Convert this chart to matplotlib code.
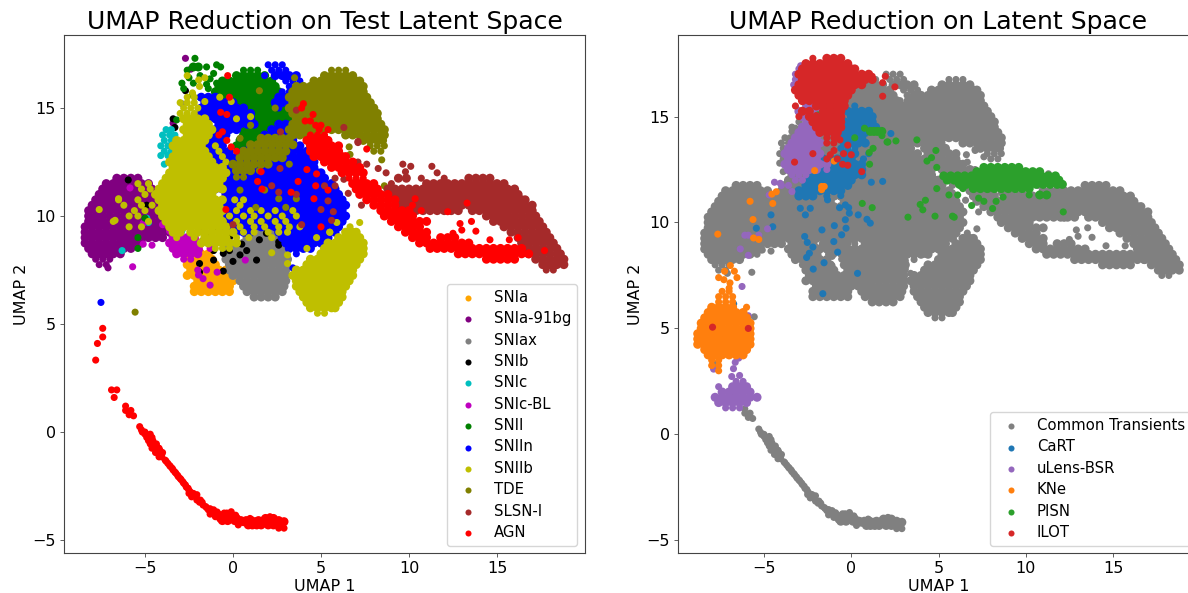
import matplotlib
matplotlib.use('Agg')
import matplotlib.pyplot as plt

# Each class: rows of (UMAP 2, [UMAP 1 values]).
SNIa = [(6.5,[-2.2,-1.8,-1.4,-1.0,-0.6,-0.2]),(6.75,[-2.2,-1.8,-1.4,-1.0,-0.6,-0.2]),
 (7.0,[-2.0,-1.6,-1.2,-0.8,-0.4,0.0]),(7.25,[-2.6,-2.2,-1.8,-1.4,-1.0,-0.6,-0.2]),
 (7.5,[-2.4,-2.0,-1.6,-1.2,-0.8,-0.4]),(7.75,[-2.6,-2.2,-1.8,-1.4,-1.0]),
 (8.0,[-2.4,-2.0,-1.6,-1.2]),(8.25,[-2.6,-2.2,-1.8,-1.4]),(8.6,[-2.8,-2.4,-1.9]),(8.9,[-2.6,-2.1])]
SNIa_91bg = [(11.75,[-6.6,-6.2,-5.8,-5.4]),(11.5,[-7.2,-6.8,-6.4,-6.0,-5.6,-5.2,-4.8]),
 (11.25,[-7.4,-7.0,-6.6,-6.2,-5.8,-5.4,-5.0,-4.6]),(11.0,[-7.6,-7.2,-6.8,-6.4,-6.0,-5.6,-5.2,-4.8,-4.4]),
 (10.75,[-7.8,-7.4,-7.0,-6.6,-6.2,-5.8,-5.4,-5.0,-4.6,-4.2]),(10.5,[-8.0,-7.6,-7.2,-6.8,-6.4,-6.0,-5.6,-5.2,-4.8,-4.4,-4.0]),
 (10.25,[-8.2,-7.8,-7.4,-7.0,-6.6,-6.2,-5.8,-5.4,-5.0,-4.6,-4.2,-3.8]),(10.0,[-8.2,-7.8,-7.4,-7.0,-6.6,-6.2,-5.8,-5.4,-5.0,-4.6,-4.2,-3.8]),
 (9.75,[-8.2,-7.8,-7.4,-7.0,-6.6,-6.2,-5.8,-5.4,-5.0,-4.6,-4.2,-3.8]),(9.5,[-8.4,-8.0,-7.6,-7.2,-6.8,-6.4,-6.0,-5.6,-5.2,-4.8,-4.4,-4.0,-3.6]),
 (9.25,[-8.4,-8.0,-7.6,-7.2,-6.8,-6.4,-6.0,-5.6,-5.2,-4.8,-4.4,-4.0,-3.6]),(9.0,[-8.4,-8.0,-7.6,-7.2,-6.8,-6.4,-6.0,-5.6,-5.2,-4.8,-4.4,-4.0]),
 (8.75,[-8.4,-8.0,-7.6,-7.2,-6.8,-6.4,-6.0,-5.6,-5.2]),(8.5,[-8.2,-7.8,-7.4,-7.0,-6.6,-6.2,-5.8]),
 (8.25,[-8.0,-7.6,-7.2,-6.8,-6.4]),(8.0,[-7.8,-7.4,-7.0]),(7.75,[-7.6,-7.2]),(7.6,[-7.1]),(17.3,[-2.7]),(16.8,[-2.4]),(14.3,[-3.4])]
SNIax = [(6.25,[1.2,1.6,2.0,2.4]),(6.5,[0.8,1.2,1.6,2.0,2.4,2.8]),(6.75,[0.6,1.0,1.4,1.8,2.2,2.6,2.9]),
 (7.0,[0.4,0.8,1.2,1.6,2.0,2.4,2.8,3.0]),(7.25,[0.0,0.4,0.8,1.2,1.6,2.0,2.4,2.8,3.0]),
 (7.5,[-0.2,0.2,0.6,1.0,1.4,1.8,2.2,2.6,3.0]),(7.75,[-0.2,0.2,0.6,1.0,1.4,1.8,2.2,2.6,3.0]),
 (8.0,[-0.4,0.0,0.4,0.8,1.2,1.6,2.0,2.4,2.8,3.1]),(8.25,[-0.2,0.2,0.6,1.0,1.4,1.8,2.2,2.6,3.0]),
 (8.5,[-0.4,0.0,0.4,0.8,1.2,1.6,2.0,2.4,2.8,3.1]),(8.75,[0.2,0.6,1.0,1.4,1.8,2.2,2.6,3.0]),
 (9.0,[0.8,1.2,1.6,2.0,2.4,2.8]),(9.25,[1.0,1.4,1.8,2.2]),(15.2,[-2.9])]
SNIb = [(11.67,[-5.95]),(10.5,[-4.9]),(7.96,[1.34,-1.1]),(7.8,[-1.9]),(7.4,[-1.9]),(7.45,[-0.55]),(8.27,[-0.55]),
 (7.9,[0.0]),(8.2,[0.4]),(8.4,[0.78,-0.2,-2.15,-1.1]),(8.9,[1.5]),(9.2,[1.9,0.8,-1.4,-2.4]),(8.8,[2.6,-0.6,-1.8]),(8.65,[2.6]),
 (8.7,[0.5]),(9.5,[0.2,-3.0,-1.0]),(11.4,[-0.07]),(15.8,[-2.7]),(14.5,[-3.4]),(12.7,[-1.1,-1.6]),(11.0,[-1.67]),
 (14.1,[-3.3]),(12.4,[-2.0,-1.3]),(10.0,[-2.4,-0.8,-1.6,0.3]),(10.6,[-3.2,-0.9,-1.9]),(9.8,[-3.3,-1.2,0.4]),(9.0,[-3.1,-0.2])]
SNIc = [(14.0,[-3.8,-3.5]),(13.75,[-4.0,-3.6,-3.3]),(13.5,[-3.9,-3.5]),(13.25,[-4.1,-3.7,-3.3]),(13.0,[-3.9,-3.5]),(12.8,[-4.1,-3.7]),
 (12.4,[-3.9]),(8.4,[-6.3]),(9.9,[-4.9]),(9.7,[-4.8]),(9.3,[-2.9]),(11.2,[-3.9]),(13.1,[-0.9])]
SNIc_BL = [(11.3,[-5.85]),(7.65,[-5.7]),(6.8,[-1.3]),(7.27,[-1.96]),(7.1,[-1.7]),(7.5,[-1.5,-2.0]),(7.96,[0.7]),(9.67,[-5.1,-2.8]),
 (9.6,[-4.0]),(8.7,[-5.1]),(8.65,[-4.6]),(8.45,[-1.9]),(8.5,[-1.3]),(7.4,[-0.9]),
 (9.0,[-3.4,-3.0,-2.6,-2.2]),(8.75,[-3.6,-3.2,-2.8,-2.4,-2.0]),(8.5,[-3.4,-3.0,-2.6,-2.2]),(8.25,[-3.2,-2.8,-2.4,-2.0]),(8.0,[-2.8,-2.4]),
 (10.0,[-3.4,-2.8,-2.0,-1.2]),(10.5,[-2.2,-1.4]),(9.3,[-1.7,-0.8,-3.6])]
SNII = [(16.75,[0.6,1.0,1.4]),(16.5,[0.2,0.6,1.0,1.4,1.8]),(16.25,[-0.6,-0.2,0.2,0.6,1.0,1.4,1.8,2.2]),
 (16.0,[-0.8,-0.4,0.0,0.4,0.8,1.2,1.6,2.0,2.4]),(15.75,[-1.0,-0.6,-0.2,0.2,0.6,1.0,1.4,1.8,2.2,2.6]),
 (15.5,[-0.8,-0.4,0.0,0.4,0.8,1.2,1.6,2.0,2.4,2.8]),(15.25,[-1.0,-0.6,-0.2,0.2,0.6,1.0,1.4,1.8,2.2,2.6,3.0]),
 (15.0,[-0.4,0.0,0.4,0.8,1.2,1.6,2.0,2.4,2.8,3.2]),(14.75,[-0.2,0.2,0.6,1.0,1.4,1.8,2.2,2.6,3.0,3.4]),
 (14.5,[0.0,0.4,0.8,1.2,1.6,2.0,2.4,2.8,3.2]),(14.25,[0.2,0.6,1.0,1.4,1.8,2.2,2.6,3.0]),(14.0,[0.6,1.0,1.4,1.8,2.2,2.6,3.0]),
 (13.75,[0.6,1.0,1.4,1.8,2.2,2.6]),(13.5,[0.4,0.8,1.2,1.6,2.0]),(13.25,[0.2,0.6,1.0,1.4]),(13.0,[-0.4,0.4,0.8]),
 (17.3,[-2.16]),(16.9,[-2.25,-1.97,-1.5,-0.7]),(16.75,[-2.6]),(17.0,[-0.93]),(16.4,[-2.5]),(16.15,[-2.9,-2.25,-0.93]),
 (15.9,[-2.8,-1.4]),(16.5,[-1.87]),(16.35,[-1.3]),(15.6,[-1.03,-2.3]),(15.5,[-1.87]),(16.1,[-1.5]),(16.6,[-1.1]),(14.45,[-3.2]),
 (9.0,[-5.4]),(8.5,[-5.4]),(9.9,[-5.0]),(13.2,[-1.2,-0.8]),(13.5,[-0.6]),(12.7,[-0.9]),(11.8,[-0.9]),(10.3,[0.0])]
SNIIn = [(17.0,[2.0,2.4,2.8]),(16.75,[2.2,2.6,3.0]),(16.5,[1.8,2.4,2.8,3.2,3.6]),(16.25,[3.0,3.4,3.8]),(16.0,[3.2,3.6]),(15.75,[2.8,3.2]),
 (15.5,[-1.8,-1.4,-1.0,2.6,3.0]),(15.25,[-1.6,-1.2,-0.8,-0.4,0.0,2.4,2.8,3.2]),(15.0,[-1.8,-1.4,-1.0,-0.6,-0.2,0.2,0.6,2.6]),
 (14.75,[-1.8,-1.4,-1.0,-0.6,-0.2,0.2,0.6,1.0]),(14.5,[-1.4,-1.0,-0.6,-0.2,0.2,0.6,1.0]),
 (14.25,[-0.8,-0.4,0.0,0.4,0.8,1.2,2.6,3.0,3.4]),(14.0,[-1.0,-0.6,-0.2,0.2,2.2,2.6,3.0,3.4]),
 (13.75,[-1.6,-1.2,-0.8,-0.4,1.8,2.2,2.6,3.0,3.4]),(13.5,[-2.0,-1.6,-1.2,-0.8,1.8,2.2,2.6,3.0,3.4]),
 (13.25,[-2.2,-1.8,-1.4,-1.0,-0.6,1.0,1.4,1.8,2.2,2.6,3.0,3.4,3.8]),
 (13.0,[-1.8,-1.4,-1.0,-0.6,-0.2,0.6,1.0,1.4,1.8,2.2,2.6,3.0,3.4,3.8,4.2]),
 (12.75,[-1.4,-1.0,-0.6,-0.2,0.2,0.6,1.0,1.4,1.8,2.2,2.6,3.0,3.4,3.8,4.2,4.4]),
 (12.5,[-1.2,-0.8,-0.4,0.0,0.4,0.8,1.2,1.6,2.0,2.4,2.8,3.2,3.6,4.0,4.4,4.6]),
 (12.25,[-1.0,-0.6,-0.2,0.2,0.6,1.0,1.4,1.8,2.2,2.6,3.0,3.4,3.8,4.2,4.6]),
 (12.0,[-1.2,-0.8,-0.4,0.0,0.4,0.8,1.2,1.6,2.0,2.4,2.8,3.2,3.6,4.0,4.4,4.8,5.0]),
 (11.75,[-1.0,-0.6,-0.2,0.2,0.6,1.0,1.4,1.8,2.2,2.6,3.0,3.4,3.8,4.2,4.6,5.0,5.2]),
 (11.5,[-1.2,-0.8,-0.4,0.0,0.4,0.8,1.2,1.6,2.0,2.4,2.8,3.2,3.6,4.0,4.4,4.8,5.2,5.6]),
 (11.25,[-1.0,-0.6,-0.2,0.2,0.6,1.0,1.4,1.8,2.2,2.6,3.0,3.4,3.8,4.2,4.6,5.0,5.4,5.8]),
 (11.0,[-0.4,0.0,0.4,0.8,1.2,1.6,2.0,2.4,2.8,3.2,3.6,4.0,4.4,4.8,5.2,5.6,6.0]),
 (10.75,[-0.2,0.2,0.6,1.0,1.4,1.8,2.2,2.6,3.0,3.4,3.8,4.2,4.6,5.0,5.4,5.8,6.2]),
 (10.5,[-0.4,0.0,0.4,0.8,1.2,1.6,2.0,2.4,2.8,3.2,3.6,4.0,4.4,4.8,5.2,5.6,6.0,6.4]),
 (10.25,[-0.2,0.2,0.6,1.0,1.4,1.8,2.2,2.6,3.0,3.4,3.8,4.2,4.6,5.0,5.4,5.8,6.2]),
 (10.0,[-0.4,0.0,0.4,0.8,1.2,1.6,2.0,2.4,2.8,3.2,3.6,4.0,4.4,4.8,5.2,5.6,6.0,6.4]),
 (9.75,[-0.2,0.2,0.6,1.0,1.4,1.8,2.2,2.6,3.0,3.4,3.8,4.2,4.6,5.0,5.4,5.8,6.2]),
 (9.5,[-0.4,0.0,0.4,0.8,1.2,1.6,2.0,2.4,2.8,3.2,3.6,4.0,4.4,4.8,5.2,5.6,6.0]),
 (9.25,[0.2,0.6,1.0,2.6,3.0,3.4,3.8,4.2,4.6,5.0,5.4,5.8]),(9.0,[2.8,3.2,3.6,4.0,4.4,4.8,5.2,5.4]),
 (8.75,[3.0,3.4,3.8,4.2,4.6,5.0]),(8.5,[3.2,3.6,4.0,4.4]),(8.25,[3.6]),(6.0,[-7.5]),
 (7.6,[3.4])]
SNIIb = [(5.5,[4.8,5.2]),(5.75,[4.4,4.8,5.2,5.6,5.8]),(6.0,[4.2,4.6,5.0,5.4,5.8,6.0]),(6.25,[4.0,4.4,4.8,5.2,5.6,6.0,6.2]),
 (6.5,[3.8,4.2,4.6,5.0,5.4,5.8,6.2]),(6.75,[3.6,4.0,4.4,4.8,5.2,5.6,6.0,6.4]),(7.0,[3.6,4.0,4.4,4.8,5.2,5.6,6.0,6.4,6.6]),
 (7.25,[3.4,3.8,4.2,4.6,5.0,5.4,5.8,6.2,6.6,6.8]),(7.5,[3.6,4.0,4.4,4.8,5.2,5.6,6.0,6.4,6.8]),(7.75,[4.2,4.6,5.0,5.4,5.8,6.2,6.6,7.0]),
 (8.0,[4.4,4.8,5.2,5.6,6.0,6.4,6.8,7.2]),(8.25,[5.0,5.4,5.8,6.2,6.6,7.0,7.4]),(8.5,[4.2,5.2,5.6,6.0,6.4,6.8,7.2,7.4]),
 (8.75,[5.4,5.8,6.2,6.6,7.0,7.4]),(9.0,[4.75,6.0,6.4,6.8,7.2]),(9.25,[5.5,6.4,6.8,7.0]),(9.7,[7.2,5.9]),(9.5,[6.65]),
 (7.8,[3.1]),(8.2,[3.1]),(8.3,[2.2]),
 (16.5,[-2.6]),(16.3,[-1.95]),(16.4,[-1.6]),(16.0,[-1.9]),(15.7,[-2.3]),(15.5,[-2.6,-2.2,-0.75]),(15.3,[-1.6,-0.1]),
 (15.25,[-3.0,-2.6,-2.2]),(15.0,[-2.8,-2.4,-2.0]),(14.75,[-3.0,-2.6,-2.2]),(14.5,[-2.8,-2.4,-2.0,-1.6,0.2]),(14.6,[1.0]),
 (14.25,[-2.6,-2.2,-1.8,-1.4]),(14.0,[-2.8,-2.4,-2.0,-1.6,-1.2]),(13.75,[-2.6,-2.2,-1.8,-1.4]),(13.5,[-3.2,-2.8,-2.4,-2.0,-1.6]),
 (13.25,[-3.4,-3.0,-2.6,-2.2,-1.8,-1.0]),(13.0,[-3.2,-2.8,-2.4,-2.0,-1.6,-0.8]),(12.75,[-3.4,-3.0,-2.6,-2.2,-1.8,-1.4,-0.6]),
 (12.5,[-3.6,-3.2,-2.8,-2.4,-2.0,-1.6,-1.2,-0.4]),(12.25,[-3.4,-3.0,-2.6,-2.2,-1.8,-1.4,-1.0,-0.6]),
 (12.0,[-3.6,-3.2,-2.8,-2.4,-2.0,-1.6,-1.2,-0.8,-0.4]),(11.75,[-3.8,-3.4,-3.0,-2.6,-2.2,-1.8,-1.4,-1.0,-0.6]),
 (11.5,[-4.0,-3.6,-3.2,-2.8,-2.4,-2.0,-1.6,-1.2,-0.8,-5.4,-4.8]),(11.25,[-4.2,-3.8,-3.4,-3.0,-2.6,-2.2,-1.8,-1.4,-1.0,-0.6,-5.2,-4.7]),
 (11.0,[-4.4,-4.0,-3.6,-3.2,-2.8,-2.4,-2.0,-1.6,-1.2,-5.0]),(10.75,[-4.2,-3.8,-3.4,-3.0,-2.6,-2.2,-1.8,-1.4,-1.0,-0.6,0.1,0.6,-6.5,-5.4]),
 (10.5,[-4.0,-3.6,-3.2,-2.8,-2.4,-2.0,-1.6,-1.2,-0.8,0.4,-6.2,-5.2,-4.6]),(10.25,[-4.2,-3.8,-3.4,-3.0,-2.6,-2.2,-1.8,-1.4,-1.0,-0.6,0.2,1.0,1.6,2.4,3.4,-5.6,-5.0]),
 (10.0,[-4.0,-3.6,-3.2,-2.8,-2.4,-2.0,-1.6,-1.2,-0.8,-0.2,0.6,1.2,2.0,2.8,3.6,-5.9,-5.4]),(9.75,[-3.8,-3.4,-3.0,-2.6,-2.2,-1.8,-1.4,-1.0,-0.6,0.2,1.0,1.6,2.4,3.0,-6.8,-4.8]),
 (9.5,[-3.6,-3.2,-2.8,-2.4,-2.0,-1.6,-1.2,-0.8,-0.4,0.4,1.2,1.8,2.6,3.2,3.8,-5.9,-5.2]),(9.25,[-3.4,-3.0,-2.4,-2.0,-1.6,-1.2,-0.8,-0.4,0.0,0.6,1.2,2.0,2.6,3.1,5.5]),
 (9.0,[-3.2,-2.2,-1.6,-1.2,-0.8,-0.4,0.2,0.9,2.2]),(8.75,[-1.8,-1.4,-1.0,-0.6,-0.2,0.2]),(8.5,[-1.0,-0.6,-0.2]),(10.3,[-7.6]),(10.8,[-6.5]),(9.8,[-6.7])]
TDE = [(16.75,[5.6,6.0,6.4]),(16.5,[5.2,5.6,6.0,6.4,6.8]),(16.25,[4.6,5.0,5.4,5.8,6.2,6.6,7.0,7.2]),
 (16.0,[3.6,4.0,4.4,4.8,5.2,5.6,6.0,6.4,6.8,7.2,7.4]),(15.75,[3.4,3.8,4.2,4.6,5.0,5.4,5.8,6.2,6.6,7.0,7.4]),
 (15.5,[3.2,3.6,4.0,4.4,4.8,5.2,5.6,6.0,6.4,6.8,7.2,7.6]),(15.25,[3.4,3.8,4.2,4.6,5.0,5.4,5.8,6.2,6.6,7.0,7.4,7.8]),
 (15.0,[3.2,3.6,4.0,4.4,4.8,5.2,5.6,6.0,6.4,6.8,7.2,7.6,8.0]),(14.75,[3.4,3.8,4.2,4.6,5.0,5.4,5.8,6.2,6.6,7.0,7.4,7.8,8.2]),
 (14.5,[3.6,4.0,4.4,4.8,5.2,5.6,6.0,6.4,6.8,7.2,7.6,8.0,8.2]),(14.25,[3.4,3.8,4.2,4.6,5.0,5.4,5.8,6.2,6.6,7.0,7.4,7.8,8.2,8.4]),
 (14.0,[3.2,3.6,4.0,4.4,4.8,5.2,5.6,6.0,6.4,6.8,7.2,7.6,8.0,8.4,8.6]),(13.75,[3.4,3.8,4.2,4.6,5.0,6.4,6.8,7.2,7.6,8.0,8.4,8.6]),
 (13.5,[7.4,7.8,8.2,8.5]),(13.25,[7.8,8.2,8.6]),(13.0,[8.0,8.4]),(13.2,[6.6]),(12.85,[6.65]),(12.6,[8.45]),(11.4,[8.6]),
 (16.4,[3.5]),(15.8,[3.4,1.5]),(15.0,[2.4]),(14.2,[1.0]),
 (13.6,[0.4,1.6,2.0,2.4,2.8,3.2]),(13.3,[1.0,1.4,1.8,2.2,2.6,3.0,3.4]),(13.0,[0.6,1.0,1.4,1.8,2.2,2.6,3.0]),
 (12.7,[0.4,0.8,1.2,1.6,2.0,2.4,2.8]),(12.4,[0.0,0.4,0.8,1.2,1.6,2.0,3.2]),(12.1,[0.2,0.6,1.0,1.5]),(11.8,[0.2,0.6]),
 (11.2,[0.4,1.8]),(10.8,[2.6,3.6]),(10.4,[1.3,3.0]),(5.55,[-5.56])]
SLSN_I = [(11.75,[13.4,13.8,14.2,14.6,9.4,9.85,10.7,12.0]),(11.5,[9.0,11.0,11.4,11.8,12.2,12.6,13.0,13.4,13.8,14.2,14.6,15.0,15.4]),
 (11.25,[8.8,9.2,9.6,10.0,10.4,10.8,11.2,11.6,12.0,12.4,12.8,13.2,13.6,14.0,14.4,14.8,15.2,15.6,16.0]),
 (11.0,[9.0,9.4,9.8,10.2,10.6,11.0,11.4,11.8,12.2,12.6,13.0,13.4,13.8,14.2,14.6,15.0,15.4,15.8,16.2]),
 (10.75,[9.2,9.6,10.0,10.4,10.8,11.2,11.6,12.0,12.4,12.8,13.2,13.6,14.0,14.4,14.8,15.2,15.6,16.0,16.4,16.6]),
 (10.5,[9.4,9.8,10.2,10.6,11.0,11.4,11.8,12.2,12.6,13.0,13.4,13.8,14.2,14.6,15.0,15.4,15.8,16.2,16.6,17.0]),
 (10.25,[10.4,10.8,11.2,11.6,12.0,12.4,12.8,13.6,14.0,14.4,14.8,15.2,15.6,16.0,16.4,16.8,17.0]),
 (10.0,[14.4,14.8,15.2,15.6,16.0,16.4,16.8,17.2]),(9.75,[14.8,15.2,15.6,16.0,16.4,16.8,17.2,17.4]),
 (9.5,[15.4,15.8,16.2,16.6,17.0,17.4,17.6]),(9.25,[15.8,16.2,16.6,17.0,17.4,17.8]),(9.0,[16.2,16.6,17.0,17.4,17.8,18.0]),
 (8.75,[16.4,16.8,17.2,17.6,18.0,18.2]),(8.5,[16.8,17.2,17.6,18.0,18.4]),(8.25,[16.8,17.2,17.6,18.0,18.4,18.6]),
 (8.0,[17.2,17.6,18.0,18.4,18.8]),(7.75,[17.6,18.0,18.4,18.8]),(7.5,[17.8,18.2]),
 (12.4,[9.65,7.6]),(12.3,[10.1,11.3]),(12.05,[9.8]),(12.0,[11.6,8.7]),(14.1,[6.3]),(13.4,[7.1]),(12.2,[8.25,2.67]),(12.5,[7.1]),
 (11.75,[5.8]),(11.7,[6.3]),(11.05,[6.55]),(10.5,[7.3]),(9.8,[5.6]),(9.6,[3.9,0.0]),(11.4,[2.2,5.2,5.8]),(11.1,[2.6]),(11.0,[3.6]),
 (10.7,[5.4]),(10.2,[5.7]),(10.3,[5.0]),(14.9,[3.6]),(13.9,[2.7]),(13.45,[7.1])]
AGN = [(4.8,[-7.4]),(4.4,[-7.4]),(4.1,[-7.7]),(3.33,[-7.8]),(1.95,[-6.9,-6.6]),(1.6,[-6.75]),(1.2,[-6.1]),(1.0,[-6.1,-5.8]),(0.8,[-5.9]),
 (0.75,[-5.65]),(0.25,[-5.3]),(0.1,[-5.2]),(0.0,[-5.15,-5.0]),(-0.1,[-5.0,-4.7]),(-0.15,[-4.8]),(-0.25,[-4.9,-4.6]),(-0.4,[-4.55,-4.8]),(-0.55,[-4.35,-4.7]),
 (-0.7,[-4.5,-4.3]),(-0.75,[-4.6,-4.2]),(-0.85,[-4.35,-4.15]),(-0.95,[-4.4,-4.0]),(-1.05,[-4.2,-4.05]),(-1.15,[-4.05,-4.2]),(-1.3,[-3.85]),(-1.35,[-3.8]),
 (-1.45,[-3.7]),(-1.55,[-3.6]),(-1.6,[-3.55]),(-1.68,[-3.45]),(-1.76,[-3.4]),(-1.85,[-3.3]),(-1.9,[-3.25]),(-2.0,[-3.15]),(-2.07,[-3.1]),(-2.15,[-3.0]),
 (-2.2,[-2.95]),(-2.3,[-2.85]),(-2.37,[-2.8]),(-2.45,[-2.7]),(-2.55,[-2.65]),(-2.6,[-2.55]),(-2.7,[-2.5]),(-2.75,[-2.45]),(-2.84,[-2.25,-2.5]),(-2.9,[-2.3,-2.05]),
 (-3.0,[-2.35,-2.1]),(-3.15,[-2.05,-1.85]),(-3.25,[-1.9,-1.75]),(-3.38,[-1.7]),(-3.45,[-1.55]),(-3.5,[-1.5]),(-3.55,[-1.3]),(-3.6,[-1.4,-1.1]),(-3.7,[-1.2,-0.9]),
 (-3.75,[-0.5,-0.35]),(-3.8,[-1.3,-0.8,-0.2]),(-3.85,[-0.05,0.15]),(-3.92,[-1.0,-0.55,-0.3]),(-3.69,[-0.1]),(-4.0,[0.0,0.97,-0.7,-0.4,-0.2,0.2,1.85,2.15,2.3]),
 (-4.1,[-0.6,-0.3,0.1,0.45,0.75,1.05,1.45,1.75,1.95,2.2,2.6]),(-4.3,[0.3,0.87,1.35,2.0,1.6,1.1,2.3,2.7]),(-4.15,[0.6,1.7,1.3,2.45,2.9,0.35,0.95,1.9]),(-3.92,[2.1]),(-4.45,[2.9,2.6]),
 (15.2,[4.0]),(15.0,[3.9]),(14.7,[4.55]),(14.4,[4.1,4.4]),(14.2,[4.7,5.0]),(14.0,[5.4,4.9]),(13.75,[4.4,4.8,5.2]),
 (13.5,[4.2,4.6,5.0,5.4]),(13.25,[4.4,4.8,5.2,5.6,6.0]),(13.0,[4.4,4.8,5.2,5.6,6.0]),(12.75,[4.6,5.0,5.4,5.8,6.2,6.4]),
 (12.5,[5.2,5.6,6.0,6.4,6.8]),(12.25,[5.6,6.0,6.4,6.8,7.2]),(12.0,[6.2,6.6,7.0,7.4]),(11.75,[6.6,7.0,7.4]),(11.5,[6.8,7.2,7.6,8.0]),
 (11.25,[7.0,7.4,7.8,8.2]),(11.0,[7.2,7.6,8.0,8.4,8.8]),(10.75,[7.6,8.0,8.4,8.8,9.2]),(10.5,[8.0,8.4,8.8,9.2]),
 (10.25,[8.4,8.8,9.2,9.6,10.0,10.7]),(10.0,[8.6,9.0,9.4,9.8,10.2]),(9.75,[9.0,9.4,9.8,10.2,10.6,11.0]),(9.5,[9.4,9.8,10.2,10.6]),
 (9.25,[9.8,10.2,10.6,11.0]),(9.0,[10.2,10.6,11.0,11.8,12.2,12.6]),(8.75,[10.6,11.0,11.4,11.8,12.2,12.6,13.0,13.4]),
 (8.5,[11.2,11.6,12.0,12.4,12.8,13.2,13.6,14.0,14.4,14.8,15.2,15.6,16.0,16.4]),(8.25,[12.8,13.2,13.6,14.0,14.4,14.8,15.2,15.6,16.0,16.4,16.8]),
 (8.0,[14.4,14.8,15.2,15.6,16.0]),(13.1,[7.6]),(9.65,[12.9]),(9.75,[13.55]),(9.3,[13.8]),(9.2,[12.5]),(9.35,[13.0]),(10.6,[13.3]),(10.2,[12.2]),
 (8.4,[17.7]),(9.0,[16.2]),(8.9,[15.7,14.6]),(10.8,[10.35]),(10.5,[10.2]),
 (16.5,[-0.3]),(15.5,[-0.2]),(14.8,[-0.7]),(14.7,[-0.35]),(13.9,[-0.6]),(13.75,[-0.8]),(13.5,[-0.35]),(13.2,[-0.1]),(13.0,[0.2]),(12.05,[1.6]),
 (11.6,[1.4,3.7]),(11.25,[1.65]),(11.1,[3.3]),(12.15,[4.2]),(11.95,[4.75]),(11.4,[4.7]),(10.8,[4.6]),(11.2,[5.4]),(10.3,[-0.4]),(9.5,[5.0])]

CaRT = [(15.25,[-0.2,0.2,0.6,1.0]),(15.0,[0.0,0.4,0.8,1.2]),(14.75,[-0.4,0.0,0.4,0.8,1.2]),(14.5,[-0.6,-0.2,0.2,0.6,1.0,1.4]),
 (14.25,[-0.4,0.0,0.4,0.8]),(14.0,[-0.6,-0.2,0.2,0.6]),(13.75,[-0.4,0.0,0.4,0.8]),(13.5,[-0.6,-0.2,0.2]),(13.25,[-0.4,0.0,0.2,1.0]),
 (13.0,[-1.6,-1.2,-0.8,-0.4,0.0,0.7]),(12.75,[-1.4,-1.0,-0.6,-0.2,0.2,0.6]),(12.5,[-1.8,-1.4,-1.0,-0.6,-0.2,0.2,0.6]),
 (12.25,[-2.2,-1.8,-1.4,-1.0,-0.6,-0.2,0.2,0.6]),(12.0,[-2.4,-2.0,-1.6,-1.2,-0.8,-0.4,0.0]),(11.75,[-2.6,-2.2,-1.8,-1.4,-1.0,-0.6,-0.2]),
 (11.5,[-3.0,-2.6,-2.2,-1.8,-1.4,-1.0,-0.6]),(11.25,[-3.0,-2.6,-2.2,-1.4]),
 (10.67,[-2.92,-2.35]),(10.36,[-2.63,-4.6,0.4]),(9.73,[-5.44,-0.3]),(9.8,[-4.5]),(9.65,[-1.68]),(9.85,[-0.97]),(9.34,[-2.67]),(9.06,[-2.52]),
 (8.84,[-2.2]),(9.1,[-1.0]),(9.42,[-0.55]),(8.6,[-0.78]),(8.55,[-2.4]),(8.35,[-2.56]),(8.1,[-1.56]),(7.8,[-2.18]),(7.6,[0.36]),(6.64,[-1.63]),
 (11.07,[-1.36]),(11.27,[-0.6]),(10.7,[-0.67,-0.15]),(10.83,[-0.34]),(10.44,[-0.11]),(10.13,[-0.34]),(10.15,[0.9]),(9.97,[1.09]),
 (11.9,[1.15]),(11.94,[1.8]),(14.2,[2.27]),(6.16,[-6.74]),(15.5,[-0.6,0.2])]
uLens_BSR = [(17.4,[-2.9]),(17.25,[-3.0,-2.6]),(17.0,[-3.2,-2.8]),(16.75,[-3.2,-2.8]),(16.5,[-3.3,-3.0]),
 (15.5,[-2.6,-2.2,-1.8]),(15.25,[-3.0,-2.6,-2.2,-1.8]),(15.0,[-2.8,-2.4,-2.0,-1.6]),(14.75,[-2.6,-2.2,-1.8]),(14.5,[-2.8,-2.4,-2.0,-1.6]),
 (14.25,[-3.0,-2.6,-2.2,-1.8]),(14.0,[-3.2,-2.8,-2.4,-2.0]),(13.75,[-3.4,-3.0,-2.6,-2.2,-1.8]),(13.5,[-3.6,-3.2,-2.8,-2.4,-2.0]),
 (13.25,[-3.8,-3.4,-3.0,-2.6,-2.2,-1.8]),(13.0,[-3.6,-3.2,-2.8,-2.4,-2.0]),(12.75,[-3.8,-3.4,-3.0,-2.6,-2.2,-1.8,-1.4]),
 (12.5,[-3.6,-3.2,-2.8,-2.4,-2.0,-1.4]),(12.25,[-3.4,-3.0,-2.6]),(12.0,[-3.2,-2.8]),(11.75,[-4.0,-3.6]),
 (11.9,[-4.4]),(11.85,[-4.07]),(11.3,[-4.7]),(11.46,[-3.4]),(9.4,[-6.1,-5.9,-5.3]),(9.7,[-4.8]),(8.75,[-6.36]),(8.45,[-5.9]),(6.98,[-6.26]),(5.6,[-5.9]),
 (2.5,[-6.6,-6.2]),(2.25,[-7.6,-6.8,-6.4,-6.0]),(2.0,[-7.4,-7.0,-6.6,-6.2,-5.8]),(1.75,[-7.8,-7.4,-7.0,-6.6,-6.2,-5.8,-5.4]),
 (1.5,[-7.6,-7.2,-6.8,-6.4,-6.0]),(1.25,[-7.2,-6.8,-6.4]),(2.73,[-6.85]),(2.78,[-6.4]),(3.1,[-6.75]),(3.4,[-6.65]),(3.6,[-6.45]),(3.08,[-7.89])]
KNe = [(7.97,[-6.93]),(7.7,[-7.26,-6.7]),(7.4,[-7.6,-6.55]),(7.3,[-7.3]),(7.15,[-6.95]),(6.9,[-7.0]),(6.75,[-7.4,-7.0]),(6.5,[-7.6,-7.2,-6.8]),
 (6.25,[-7.6,-7.2,-6.8]),(6.0,[-8.0,-7.6,-7.2,-6.8,-6.0]),(5.75,[-8.2,-7.8,-7.4,-7.0,-6.6,-6.2]),(5.5,[-8.4,-8.0,-7.6,-7.2,-6.8,-6.4,-6.0]),
 (5.25,[-8.6,-8.2,-7.8,-7.4,-7.0,-6.6,-6.2,-5.8]),(5.0,[-8.6,-8.2,-7.8,-7.4,-7.0,-6.6,-6.2,-5.8]),(4.75,[-8.8,-8.4,-8.0,-7.6,-7.2,-6.8,-6.4,-6.0,-5.8]),
 (4.5,[-8.8,-8.4,-8.0,-7.6,-7.2,-6.8,-6.4,-6.0,-5.8]),(4.25,[-8.8,-8.4,-8.0,-7.6,-7.2,-6.8,-6.4,-6.0,-5.8]),(4.0,[-8.4,-8.0,-7.6,-7.2,-6.8,-6.4,-6.0]),
 (3.75,[-8.2,-7.8,-7.4,-7.0,-6.6,-6.2]),(3.5,[-8.0,-7.6]),(3.25,[-8.0,-7.6]),(3.0,[-7.6]),
 (11.0,[-5.8]),(10.14,[-5.63]),(9.45,[-7.65]),(9.27,[-5.6]),(9.2,[-5.3]),(10.9,[-4.5]),(11.34,[-4.55]),(11.45,[-4.3]),(12.45,[-2.1]),(12.9,[-0.98]),
 (11.7,[-1.7,-1.55]),(11.55,[-1.7])]
PISN = [(12.6,[4.9,7.6,8.0,8.4,8.8,9.2,9.6]),(12.4,[7.2,7.6,8.0,8.4,8.8,9.2,9.6,10.0,10.4,10.8]),
 (12.2,[5.3,5.7,6.1,6.5,6.9,7.3,7.7,8.1,8.5,8.9,9.3,9.7,10.1,10.5,10.9,11.3,11.7]),
 (12.0,[5.5,5.9,6.3,6.7,7.1,7.5,7.9,8.3,8.7,9.1,9.5,9.9,10.3,10.7,11.1,11.5,11.9]),
 (11.8,[6.2,6.6,7.0,7.4,7.8,8.2,8.6,9.0,9.4,9.8,10.2,10.6,11.0,11.4,11.8,12.1]),
 (11.6,[4.9,6.4,7.0,7.4,7.8,8.2,8.6,9.0,9.4,9.8,10.2]),
 (13.4,[4.85]),(12.9,[4.34]),(13.06,[4.6]),(13.9,[3.76]),(13.85,[2.56]),(13.8,[2.05]),(14.1,[1.76]),
 (11.3,[5.6,6.1,10.2,10.8,11.2]),(10.8,[6.9]),(11.0,[7.6,8.3]),(10.66,[8.1]),(11.15,[7.3]),(11.2,[8.7]),(10.5,[12.15]),(10.6,[4.1]),
 (10.85,[3.95]),(11.05,[4.25]),(10.25,[3.25,5.9]),(10.3,[4.8,5.8]),(14.45,[0.76]),(14.0,[0.2]),(14.3,[1.1,1.3,1.5,1.75]),(13.8,[2.1]),
 (13.3,[1.03]),(13.5,[1.25]),(12.75,[1.05]),(10.9,[0.63]),(10.7,[1.2]),(15.08,[-1.9])]
ILOT = [(17.75,[-2.2,-1.4,-1.0,-0.6]),(17.5,[-2.6,-2.2,-1.8,-1.4,-1.0,-0.6,-0.2]),(17.25,[-2.8,-2.4,-2.0,-1.6,-1.2,-0.8,-0.4,0.0,0.2]),
 (17.0,[-3.0,-2.6,-2.2,-1.8,-1.4,-1.0,-0.6,-0.2,0.2,0.6,1.0]),(16.75,[-2.8,-2.4,-2.0,-1.6,-1.2,-0.8,-0.4,0.0,0.4,0.8,1.2]),
 (16.5,[-3.0,-2.6,-2.2,-1.8,-1.4,-1.0,-0.6,-0.2,0.2,0.6]),(16.25,[-3.2,-2.8,-2.4,-2.0,-1.6,-1.2,-0.8,-0.4,0.0]),
 (16.0,[-3.0,-2.6,-2.2,-1.8,-1.4,-1.0,-0.6,-0.2]),(15.75,[-2.8,-2.4,-2.0,-1.6,-1.2,-0.8,-0.4]),(15.5,[-3.2,-2.0,-1.6,-1.2,-0.8,-0.4]),
 (15.25,[-2.8,-2.4,-1.6,-1.2,-0.8,-0.6]),(15.0,[-3.0,-2.4,-2.0,-1.6,-1.2,-0.8,-0.6]),(14.75,[-2.2,-1.8,-1.4,-1.0,-0.6]),
 (14.5,[-2.0,-1.6,-1.2,-0.8,-0.6]),(14.25,[-1.8,-1.4,-1.0,-0.8]),(14.0,[-1.4,-1.0,-0.8]),(13.75,[-1.4,-1.0]),
 (12.85,[-3.25]),(13.25,[-2.2,-0.44]),(13.4,[-0.99]),(13.2,[-1.2,0.0]),(13.0,[-1.4,-0.8]),(13.9,[-0.65]),(13.65,[-0.2]),(12.75,[-0.5]),(12.7,[-0.2]),
 (12.4,[0.6]),(16.9,[1.95,1.2]),(16.6,[1.8]),(16.4,[2.5]),(15.96,[1.8]),(5.06,[-7.95]),(5.0,[-5.9])]

left_labels = ['SNIa','SNIa-91bg','SNIax','SNIb','SNIc','SNIc-BL','SNII','SNIIn','SNIIb','TDE','SLSN-I','AGN']
left_rows = [SNIa,SNIa_91bg,SNIax,SNIb,SNIc,SNIc_BL,SNII,SNIIn,SNIIb,TDE,SLSN_I,AGN]
left_colors = ['orange','purple','gray','k','c','m','g','b','y','olive','brown','r']
right_labels = ['CaRT','uLens-BSR','KNe','PISN','ILOT']
right_rows = [CaRT,uLens_BSR,KNe,PISN,ILOT]
right_colors = ['tab:blue','tab:purple','tab:orange','tab:green','tab:red']

S_LONE, S_CROWD, S_KEY = 26, 42, 19   # marker areas: lone point, point in a packed row, legend key

def expand(rows):
    xs, ys, ss = [], [], []
    for y, row in rows:
        for x in row:
            crowded = len(row) >= 4 and any(0 < abs(x - o) <= 0.45 for o in row)
            xs.append(x); ys.append(y); ss.append(S_CROWD if crowded else S_LONE)
    return xs, ys, ss

W, H = 1188, 593
fig = plt.figure(figsize=(W/100, H/100), dpi=100)
axl = fig.add_axes([64/W, 1-553/H, 521/W, 518/H])
axr = fig.add_axes([678/W, 1-553/H, 521/W, 518/H])

all_x, all_y, all_s = [], [], []
for rows, lab, col in zip(left_rows, left_labels, left_colors):
    xs, ys, ss = expand(rows)
    all_x += xs; all_y += ys; all_s += ss
    axl.scatter(xs, ys, s=ss, color=col, linewidths=0)
    axl.scatter([], [], s=S_KEY, color=col, linewidths=0, label=lab)

axr.scatter(all_x, all_y, s=all_s, color='gray', linewidths=0)
axr.scatter([], [], s=S_KEY, color='gray', linewidths=0, label='Common Transients')
for rows, lab, col in zip(right_rows, right_labels, right_colors):
    xs, ys, ss = expand(rows)
    axr.scatter(xs, ys, s=ss, color=col, linewidths=0)
    axr.scatter([], [], s=S_KEY, color=col, linewidths=0, label=lab)

axl.set_xlim(-9.6, 20.0); axl.set_ylim(-5.6, 18.38)
axr.set_xlim(-9.93, 19.93); axr.set_ylim(-5.6, 18.85)
for ax, t in ((axl, 'UMAP Reduction on Test Latent Space'), (axr, 'UMAP Reduction on Latent Space')):
    ax.set_title(t, fontsize=18.1, pad=4.5)
    ax.set_xlabel('UMAP 1', fontsize=11.5, labelpad=2)
    ax.set_ylabel('UMAP 2', fontsize=11.5, labelpad=2)
    ax.set_xticks([-5,0,5,10,15]); ax.set_yticks([-5,0,5,10,15])
    ax.tick_params(labelsize=11.5, length=3, width=0.6, pad=3, color='#444444')
    for s in ax.spines.values():
        s.set_linewidth(0.8); s.set_color('#444444')
common = dict(fontsize=10.7, borderaxespad=0, labelspacing=0.43, handletextpad=0.75, bbox_transform=fig.transFigure)
axl.legend(loc='lower right', bbox_to_anchor=(577/W, 1-546/H), **common)
axr.legend(loc='lower left', bbox_to_anchor=(990/W, 1-546/H), **common)
fig.savefig('out.png', dpi=100)
